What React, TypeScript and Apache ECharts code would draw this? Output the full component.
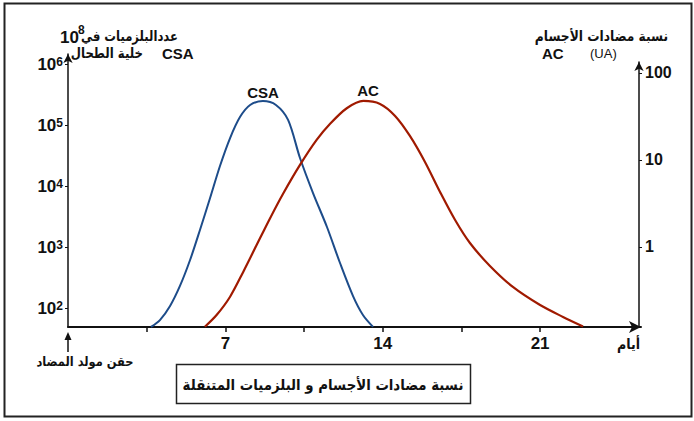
import React, { useEffect, useRef } from 'react';
import * as echarts from 'echarts';

// CSA: plasma cells per 10^8 spleen cells (left log axis)
const csaDays = [3.69, 4.09, 4.54, 4.98, 5.43, 5.87, 6.32, 6.76, 7.21, 7.65, 8.1, 8.67, 9.25, 9.79, 10.32, 10.9, 11.52, 12.1, 12.68, 13.12, 13.57];
const csaValues = [49, 63.5, 108, 230, 612, 1900, 6350, 21300, 61200, 135000, 213000, 247000, 213000, 121000, 28800, 7670, 2130, 547, 157, 77, 49];
// AC: antibody level in UA (right log axis)
const acDays = [6.09, 6.61, 7.21, 7.8, 8.39, 8.99, 9.58, 10.32, 11.06, 11.65, 12.4, 13.14, 13.88, 14.55, 15.21, 15.88, 16.55, 17.22, 17.88, 18.77, 19.79, 21.0, 22.02, 22.91];
const acValues = [0.121, 0.165, 0.268, 0.52, 1.05, 2.14, 4.14, 8.77, 17.0, 25.9, 39.3, 47.7, 44.1, 32.1, 18.9, 9.49, 4.29, 2.04, 1.11, 0.605, 0.347, 0.215, 0.157, 0.122];

const dayTicks = [3.5, 7, 10.5, 14, 17.5, 21];
const dayLabels = [7, 14, 21];
const leftExponents = [2, 3, 4, 5, 6];
const rightExponents = [0, 1, 2];
const rightLabels = ['1', '10', '100'];

const LAT = 'Liberation Sans, Arial, sans-serif';
const AR = 'DejaVu Sans, sans-serif';
const INK = '#111';

export default function App() {
  const ref = useRef<HTMLDivElement>(null);
  useEffect(() => {
    if (!ref.current) return;
    const chart = echarts.init(ref.current, undefined, { renderer: 'svg' });
    const pxPerDay = 22.48;
    const g0 = { left: 68, top: 54, width: 573, height: 273 };
    const g1 = { left: 68, top: 62, width: 571, height: 265 };
    const csaData = csaDays.map((d, i) => [d, Math.log10(csaValues[i])]);
    const acData = acDays.map((d, i) => [d, Math.log10(acValues[i])]);

    const arText = (x: number, y: number, text: string, size: number, sx: number, align = 'right') => ({
      type: 'text', x, y, scaleX: sx,
      style: { text, font: `bold ${size}px ${AR}`, fill: INK, align, verticalAlign: 'middle' },
    });

    const option: any = {
      animation: false,
      backgroundColor: '#fff',
      grid: [
        { ...g0, outerBoundsMode: 'none' },
        { ...g1, outerBoundsMode: 'none' },
      ],
      xAxis: [
        {
          type: 'value', gridIndex: 0, min: 0, max: g0.width / pxPerDay,
          splitLine: { show: false },
          axisLine: { show: true, lineStyle: { color: INK, width: 2 }, symbol: ['none', 'arrow'], symbolSize: [9, 12] },
          axisTick: { show: true, customValues: dayTicks, length: 5, lineStyle: { color: INK, width: 1.5 } },
          axisLabel: { customValues: dayLabels, margin: 8, color: INK, fontSize: 17, fontWeight: 'bold', fontFamily: LAT },
        },
        {
          type: 'value', gridIndex: 1, min: 0, max: g1.width / pxPerDay, show: false,
        },
      ],
      yAxis: [
        {
          type: 'value', gridIndex: 0, position: 'left', min: 1.689, max: 6.164,
          splitLine: { show: false },
          axisLine: { show: true, onZero: false, lineStyle: { color: INK, width: 1.5 }, symbol: ['none', 'arrow'], symbolSize: [7, 9] },
          axisTick: { show: true, customValues: leftExponents, length: 3, lineStyle: { color: INK, width: 1 } },
          axisLabel: {
            customValues: leftExponents, margin: 5, color: INK,
            formatter: (v: number) => `{b|10}{s|${Math.round(v)}}`,
            rich: {
              b: { fontSize: 17, fontWeight: 'bold', fontFamily: LAT, color: INK, verticalAlign: 'bottom', lineHeight: 17 },
              s: { fontSize: 12, fontWeight: 'bold', fontFamily: LAT, color: INK, verticalAlign: 'top', lineHeight: 12, padding: [0, 0, 9, 0] },
            },
          },
        },
        {
          type: 'value', gridIndex: 1, position: 'right', min: -0.92, max: 2.126,
          splitLine: { show: false },
          axisLine: { show: true, onZero: false, lineStyle: { color: INK, width: 1.5 }, symbol: ['none', 'arrow'], symbolSize: [7, 9] },
          axisTick: { show: true, customValues: rightExponents, length: 3, lineStyle: { color: INK, width: 1 } },
          axisLabel: {
            customValues: rightExponents, margin: 6, color: INK, fontSize: 16, fontWeight: 'bold', fontFamily: LAT,
            formatter: (v: number) => rightLabels[rightExponents.indexOf(Math.round(v))] ?? '',
          },
        },
      ],
      series: [
        {
          name: 'CSA', type: 'line', xAxisIndex: 0, yAxisIndex: 0, data: csaData,
          smooth: 0.3, showSymbol: false, symbol: 'none',
          lineStyle: { color: '#1d4c8a', width: 2 },
        },
        {
          name: 'AC', type: 'line', xAxisIndex: 1, yAxisIndex: 1, data: acData,
          smooth: 0.3, showSymbol: false, symbol: 'none',
          lineStyle: { color: '#a01a00', width: 2.2 },
        },
      ],
      graphic: [
        { type: 'rect', shape: { x: 4.5, y: 3.5, width: 687, height: 413 }, style: { fill: 'none', stroke: '#222', lineWidth: 2 }, silent: true },
        // top-left title
        { type: 'text', x: 60, y: 37, style: { text: '10', font: `bold 17px ${LAT}`, fill: INK, verticalAlign: 'middle' } },
        { type: 'text', x: 78, y: 30, style: { text: '8', font: `bold 12px ${LAT}`, fill: INK, verticalAlign: 'middle' } },
        arText(178, 36, 'عددالبلزميات في', 14, 0.83),
        arText(143, 53, 'خلية الطحال', 14, 0.84),
        { type: 'text', x: 162, y: 53, style: { text: 'CSA', font: `bold 15px ${LAT}`, fill: INK, verticalAlign: 'middle' } },
        // top-right title
        arText(668, 36, 'نسبة مضادات الأجسام', 14, 0.875),
        { type: 'text', x: 542, y: 53, style: { text: 'AC', font: `bold 15px ${LAT}`, fill: INK, verticalAlign: 'middle' } },
        { type: 'text', x: 590, y: 53, style: { text: '(UA)', font: `13px ${LAT}`, fill: INK, verticalAlign: 'middle' } },
        // curve labels
        { type: 'text', x: 263, y: 92, style: { text: 'CSA', font: `bold 15px ${LAT}`, fill: INK, align: 'center', verticalAlign: 'middle' } },
        { type: 'text', x: 368, y: 90, style: { text: 'AC', font: `bold 15px ${LAT}`, fill: INK, align: 'center', verticalAlign: 'middle' } },
        // x axis name
        arText(640, 344, 'أيام', 14, 0.9),
        // injection arrow
        { type: 'line', shape: { x1: 68, y1: 352, x2: 68, y2: 338 }, style: { stroke: INK, lineWidth: 1.5 } },
        { type: 'polygon', shape: { points: [[68, 332], [64.5, 340], [71.5, 340]] }, style: { fill: INK } },
        arText(85, 362, 'حقن مولد المضاد', 13, 0.88, 'center'),
        // bottom box
        { type: 'rect', shape: { x: 176.5, y: 364.5, width: 294, height: 39 }, style: { fill: 'none', stroke: '#222', lineWidth: 1.5 } },
        arText(323, 385, 'نسبة مضادات الأجسام و البلزميات المتنقلة', 15, 0.89, 'center'),
      ],
    };
    chart.setOption(option);
    return () => chart.dispose();
  }, []);
  return <div ref={ref} style={{ position: 'fixed', left: 0, top: 0, width: 694, height: 421, background: '#fff' }} />;
}
